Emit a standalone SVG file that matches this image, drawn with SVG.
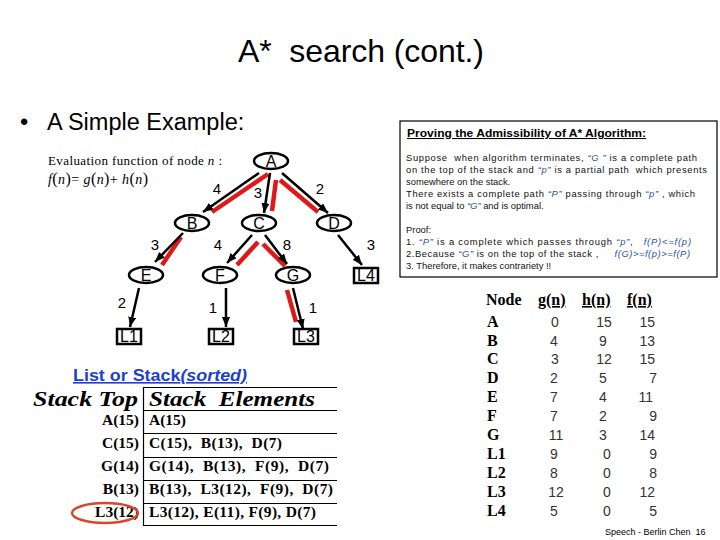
<svg xmlns="http://www.w3.org/2000/svg" width="720" height="540" viewBox="0 0 720 540">
<defs>
<marker id="arr" viewBox="0 0 10 8" refX="10" refY="4" markerWidth="10" markerHeight="8" markerUnits="userSpaceOnUse" orient="auto">
<path d="M0,0 L10,4 L0,8 z" fill="#000"/>
</marker>
<style>
.sans{font-family:"Liberation Sans",Arial,sans-serif}
.serif{font-family:"Liberation Serif","Times New Roman",serif}
.node ellipse,.node rect{fill:#fff;stroke:#000;stroke-width:2.5}
.node text{font-family:"Liberation Sans",Arial,sans-serif;font-size:16px;text-anchor:middle}
.edge{stroke:#000;stroke-width:2.5;marker-end:url(#arr)}
.red{stroke:#e01818;stroke-width:4.5}
.elbl{font-family:"Liberation Sans",Arial,sans-serif;font-size:15px;text-anchor:middle}
.pf{font-family:"Liberation Sans",Arial,sans-serif;font-size:9.4px;fill:#111}
.bl{fill:#2a4fa8;font-style:italic}
.st{font-family:"Liberation Serif","Times New Roman",serif;font-size:15.5px;font-weight:bold}
.tbh{font-family:"Liberation Serif","Times New Roman",serif;font-size:16px;font-weight:bold}
.tv{font-family:"Liberation Sans",Arial,sans-serif;font-size:14px;fill:#333}
</style>
</defs>
<rect width="720" height="540" fill="#fff"/>

<text class="sans" x="238" y="62" font-size="32" xml:space="preserve" textLength="246" lengthAdjust="spacing">A*  search (cont.)</text>
<text class="sans" x="20" y="130" font-size="23.5">•</text>
<text class="sans" x="47" y="130" font-size="23.5">A Simple Example:</text>

<text class="serif" x="48" y="165" font-size="13" textLength="174" lengthAdjust="spacing">Evaluation function of node <tspan font-style="italic">n</tspan> :</text>
<text class="serif" x="48" y="184" font-size="14" font-style="italic" textLength="100" lengthAdjust="spacing"><tspan>f</tspan><tspan font-style="normal" font-size="16">(</tspan>n<tspan font-style="normal" font-size="16">)</tspan><tspan font-style="normal">= </tspan>g<tspan font-style="normal" font-size="16">(</tspan>n<tspan font-style="normal" font-size="16">)</tspan><tspan font-style="normal">+ </tspan>h<tspan font-style="normal" font-size="16">(</tspan>n<tspan font-style="normal" font-size="16">)</tspan></text>

<g id="connectors">
<line class="red" x1="268" y1="174" x2="212" y2="212"/>
<line class="red" x1="276" y1="180" x2="272" y2="211"/>
<line class="red" x1="280" y1="180" x2="318" y2="212"/>
<line class="red" x1="181" y1="237" x2="162" y2="265"/>
<line class="red" x1="258" y1="242" x2="237" y2="265"/>
<line class="red" x1="263" y1="244" x2="285" y2="266"/>
<line class="red" x1="287" y1="290" x2="296" y2="322"/>
<line class="edge" x1="259" y1="173" x2="203" y2="212"/>
<line class="edge" x1="270" y1="173" x2="264" y2="213"/>
<line class="edge" x1="282" y1="173" x2="328" y2="213"/>
<line class="edge" x1="183" y1="233" x2="155" y2="262"/>
<line class="edge" x1="252" y1="235" x2="227" y2="263"/>
<line class="edge" x1="265" y1="235" x2="287" y2="264"/>
<line class="edge" x1="338" y1="235" x2="362" y2="265"/>
<line class="edge" x1="139" y1="288" x2="130" y2="327"/>
<line class="edge" x1="226" y1="288" x2="226" y2="327"/>
<line class="edge" x1="293" y1="288" x2="303" y2="329"/>
<text class="elbl" x="217" y="194">4</text>
<text class="elbl" x="258" y="198">3</text>
<text class="elbl" x="320" y="194">2</text>
<text class="elbl" x="155" y="250">3</text>
<text class="elbl" x="218" y="250">4</text>
<text class="elbl" x="287" y="250">8</text>
<text class="elbl" x="371" y="250">3</text>
<text class="elbl" x="122" y="308">2</text>
<text class="elbl" x="213" y="313">1</text>
<text class="elbl" x="313" y="313">1</text>
</g>

<g id="node-A" class="node"><ellipse cx="271" cy="161" rx="17" ry="8"/><text x="271" y="167">A</text></g>
<g id="node-B" class="node"><ellipse cx="192" cy="223" rx="17" ry="8"/><text x="192" y="229">B</text></g>
<g id="node-C" class="node"><ellipse cx="259" cy="223" rx="17" ry="8"/><text x="259" y="229">C</text></g>
<g id="node-D" class="node"><ellipse cx="334" cy="223" rx="17" ry="8"/><text x="334" y="229">D</text></g>
<g id="node-E" class="node"><ellipse cx="146" cy="275" rx="17" ry="8"/><text x="146" y="281">E</text></g>
<g id="node-F" class="node"><ellipse cx="220" cy="275" rx="17" ry="8"/><text x="220" y="281">F</text></g>
<g id="node-G" class="node"><ellipse cx="293" cy="275" rx="17" ry="8"/><text x="293" y="281">G</text></g>
<g id="node-L4" class="node"><rect x="354" y="268" width="24" height="15"/><text x="366" y="281">L4</text></g>
<g id="node-L1" class="node"><rect x="117" y="329" width="24" height="15"/><text x="129" y="342">L1</text></g>
<g id="node-L2" class="node"><rect x="209" y="329" width="24" height="15"/><text x="221" y="342">L2</text></g>
<g id="node-L3" class="node"><rect x="294" y="329" width="24" height="15"/><text x="306" y="342">L3</text></g>

<g id="proof">
<rect x="400" y="121" width="317" height="156" fill="#fff" stroke="#000" stroke-width="1.2"/>
<text class="sans" x="407" y="137" font-size="10.5" font-weight="bold" text-decoration="underline" textLength="239" lengthAdjust="spacingAndGlyphs">Proving the Admissibility of A* Algorithm:</text>
<text class="pf" x="406" y="161" textLength="291" lengthAdjust="spacing" xml:space="preserve">Suppose  when algorithm terminates, <tspan class="bl">“G ”</tspan> is a complete path</text>
<text class="pf" x="406" y="173" textLength="301" lengthAdjust="spacing" xml:space="preserve">on the top of the stack and <tspan class="bl">“p”</tspan> is a partial path  which presents</text>
<text class="pf" x="406" y="185">somewhere on the stack.</text>
<text class="pf" x="406" y="197" textLength="289" lengthAdjust="spacing">There exists a complete path <tspan class="bl">“P”</tspan> passing through <tspan class="bl">“p”</tspan> , which</text>
<text class="pf" x="406" y="209">is not equal to <tspan class="bl">“G”</tspan> and is optimal.</text>
<text class="pf" x="406" y="233">Proof:</text>
<text class="pf" x="406" y="245" textLength="285" lengthAdjust="spacing" xml:space="preserve">1. <tspan class="bl">“P”</tspan> is a complete which passes through <tspan class="bl">“p”</tspan>,   <tspan class="bl">f(P)&lt;=f(p)</tspan></text>
<text class="pf" x="406" y="257" textLength="284" lengthAdjust="spacing" xml:space="preserve">2.Because <tspan class="bl">“G”</tspan> is on the top of the stack ,     <tspan class="bl">f(G)&gt;=f(p)&gt;=f(P)</tspan></text>
<text class="pf" x="406" y="269">3. Therefore, it makes contrariety !!</text>
</g>

<g id="stack">
<text class="sans" x="73" y="381" font-size="16" font-weight="bold" fill="#1c3fd0" text-decoration="underline" textLength="174" lengthAdjust="spacingAndGlyphs">List or Stack<tspan font-style="italic">(sorted)</tspan></text>
<text class="serif" x="33" y="406" font-size="20" font-weight="bold" font-style="italic" textLength="105" lengthAdjust="spacingAndGlyphs">Stack Top</text>
<text class="serif" x="149" y="406" font-size="20" font-weight="bold" font-style="italic" textLength="166" lengthAdjust="spacingAndGlyphs" xml:space="preserve">Stack  Elements</text>
<g stroke="#000" stroke-width="1.2" fill="none">
<line x1="143.5" y1="387" x2="143.5" y2="526"/>
<line x1="143.5" y1="387.5" x2="337" y2="387.5"/>
<line x1="143.5" y1="410.5" x2="337" y2="410.5"/>
<line x1="143.5" y1="433.5" x2="337" y2="433.5"/>
<line x1="143.5" y1="457.5" x2="337" y2="457.5"/>
<line x1="143.5" y1="480.5" x2="337" y2="480.5"/>
<line x1="143.5" y1="503.5" x2="337" y2="503.5"/>
<line x1="143.5" y1="525.5" x2="337" y2="525.5"/>
</g>
<g class="st" text-anchor="end">
<text x="139" y="425">A(15)</text>
<text x="139" y="448">C(15)</text>
<text x="139" y="471">G(14)</text>
<text x="139" y="494">B(13)</text>
<text x="139" y="517">L3(12)</text>
</g>
<g class="st">
<text x="149" y="425">A(15)</text>
<text x="149" y="448" xml:space="preserve" textLength="133" lengthAdjust="spacing">C(15),  B(13),  D(7)</text>
<text x="149" y="471" xml:space="preserve" textLength="180" lengthAdjust="spacing">G(14),  B(13),  F(9),  D(7)</text>
<text x="149" y="494" xml:space="preserve" textLength="184" lengthAdjust="spacing">B(13),  L3(12),  F(9),  D(7)</text>
<text x="149" y="517" textLength="167" lengthAdjust="spacing">L3(12), E(11), F(9), D(7)</text>
</g>
<ellipse cx="105" cy="513" rx="33" ry="10" fill="none" stroke="#d9472b" stroke-width="2.5"/>
</g>

<g id="values">
<text class="tbh" x="486" y="305">Node</text>
<text class="tbh" x="538" y="305" text-decoration="underline">g(n)</text>
<text class="tbh" x="582" y="305" text-decoration="underline">h(n)</text>
<text class="tbh" x="627" y="305" text-decoration="underline">f(n)</text>
<g class="tbh">
<text x="487" y="327">A</text>
<text x="487" y="346">B</text>
<text x="487" y="364">C</text>
<text x="487" y="383">D</text>
<text x="487" y="402">E</text>
<text x="487" y="421">F</text>
<text x="487" y="440">G</text>
<text x="487" y="459">L1</text>
<text x="487" y="478">L2</text>
<text x="487" y="497">L3</text>
<text x="487" y="516">L4</text>
</g>
<g class="tv" text-anchor="middle">
<text x="555" y="327">0</text>
<text x="554" y="346">4</text>
<text x="555" y="364">3</text>
<text x="554" y="383">2</text>
<text x="554" y="402">7</text>
<text x="554" y="421">7</text>
<text x="556" y="440">11</text>
<text x="554" y="459">9</text>
<text x="554" y="478">8</text>
<text x="556" y="497">12</text>
<text x="554" y="516">5</text>
<text x="604" y="327">15</text>
<text x="603" y="346">9</text>
<text x="604" y="364">12</text>
<text x="603" y="383">5</text>
<text x="603" y="402">4</text>
<text x="603" y="421">2</text>
<text x="603" y="440">3</text>
<text x="607" y="459">0</text>
<text x="607" y="478">0</text>
<text x="607" y="497">0</text>
<text x="607" y="516">0</text>
</g>
<g class="tv" text-anchor="end">
<text x="655" y="327">15</text>
<text x="655" y="346">13</text>
<text x="655" y="364">15</text>
<text x="657" y="383">7</text>
<text x="653" y="402">11</text>
<text x="657" y="421">9</text>
<text x="655" y="440">14</text>
<text x="657" y="459">9</text>
<text x="657" y="478">8</text>
<text x="655" y="497">12</text>
<text x="657" y="516">5</text>
</g>
</g>

<text class="sans" x="605" y="535" font-size="9" xml:space="preserve">Speech - Berlin Chen  16</text>
</svg>
